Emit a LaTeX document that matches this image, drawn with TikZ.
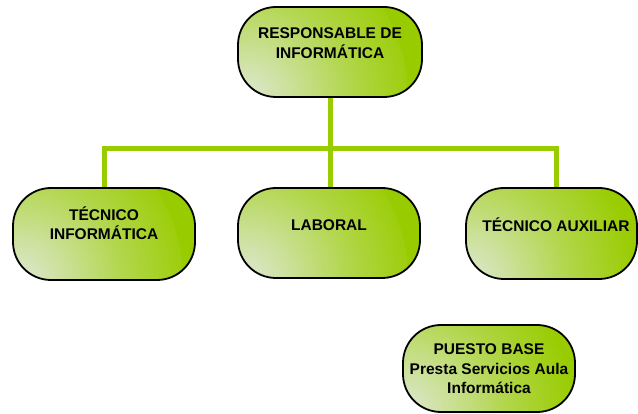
\documentclass[tikz,border=0pt]{standalone}
\usepackage{fontspec}
\setmainfont{Liberation Sans}
\definecolor{gg}{HTML}{99CC00}
\definecolor{gl}{HTML}{DEE8D2}
\pgfdeclareradialshading{gshade}{\pgfpoint{0bp}{0bp}}{color(0bp)=(gl); color(6bp)=(gl!75!gg); color(15bp)=(gl!35!gg); color(25bp)=(gg); color(50bp)=(gg)}
\begin{document}
\begin{tikzpicture}[x=1pt,y=1pt,
  box/.style={draw=black, line width=1.8pt, rounded corners=38pt, inner sep=0pt, fill=gg,
    path picture={\shade[shading=gshade] (path picture bounding box.south west) circle (170pt);}},
  lbl/.style={font=\bfseries\fontsize{15.5}{19.5}\selectfont, align=center, inner sep=0pt},
  conn/.style={draw=gg, line width=5pt}]
\useasboundingbox (0,0) rectangle (638,-414);
\coordinate (bus) at (330,-149);
% connectors
\coordinate (topb) at (330,-97);
\coordinate (infn) at (104,-188);
\coordinate (labn) at (330,-188);
\coordinate (auxn) at (556,-188);
\draw[conn] (topb) -- (labn);
\draw[conn] (infn) -- (infn |- bus) -- (auxn |- bus) -- (auxn);
% boxes
\node[box, minimum width=184pt, minimum height=90pt] (top) at (330,-52) {};
\node[box, minimum width=182pt, minimum height=92pt] (tecinf) at (104,-234) {};
\node[box, minimum width=182pt, minimum height=90pt] (laboral) at (329,-233) {};
\node[box, minimum width=171pt, minimum height=91pt] (tecaux) at (551.5,-233.5) {};
\node[box, minimum width=172pt, minimum height=87pt] (puesto) at (489,-368.5) {};
% texts
\node[lbl] (ttop) at (330,-43) {RESPONSABLE DE\\INFORMÁTICA};
\node[lbl] (tinf) at (104,-223) {TÉCNICO\\INFORMÁTICA};
\node[lbl] (tlab) at (329,-225) {LABORAL};
\node[lbl] (taux) at (556,-225) {TÉCNICO AUXILIAR};
\node[lbl] (tpue) at (489,-369) {PUESTO BASE\\Presta Servicios Aula\\Informática};
\end{tikzpicture}
\end{document}
